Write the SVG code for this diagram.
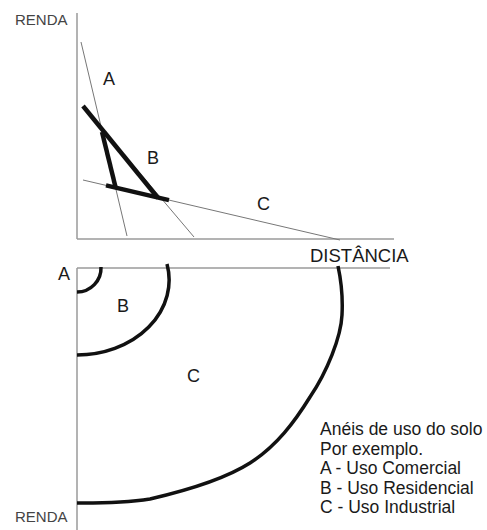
<svg xmlns="http://www.w3.org/2000/svg" width="487" height="530" viewBox="0 0 487 530">
<style>
.axis{stroke:#9a9a9a;stroke-width:1.5;fill:none}
.thin{stroke:#777;stroke-width:1;fill:none}
.thick{stroke:#111;stroke-width:4.5;fill:none;stroke-linecap:butt}
.ring{stroke:#111;stroke-width:3.5;fill:none;stroke-linecap:butt}
text{font-family:"Liberation Sans",Arial,sans-serif;fill:#1a1a1a}
.axl{font-size:15px;fill:#444}
.lbl{font-size:18px}
.leg{font-size:17.5px}
</style>
<rect width="487" height="530" fill="#fff"/>
<g id="top-chart">
<g id="axes-top">
<line class="axis" x1="77" y1="13" x2="77" y2="239"/>
<line class="axis" x1="77" y1="239" x2="394" y2="239"/>
<text class="axl" x="15" y="25">RENDA</text>
<text class="lbl" x="310" y="262" style="font-size:18.5px">DISTÂNCIA</text>
</g>
<g id="connectors">
<line class="thin" x1="81" y1="42" x2="127" y2="236"/>
<line class="thin" x1="83" y1="106" x2="194" y2="237"/>
<line class="thin" x1="83" y1="180" x2="340" y2="240"/>
<line class="thick" x1="83" y1="106" x2="158" y2="198"/>
<line class="thick" x1="102" y1="132" x2="115.5" y2="187"/>
<line class="thick" x1="106" y1="185.4" x2="169" y2="200.1"/>
</g>
<g id="label-A-top"><text class="lbl" x="103" y="85">A</text></g>
<g id="label-B-top"><text class="lbl" x="147" y="164">B</text></g>
<g id="label-C-top"><text class="lbl" x="257" y="210">C</text></g>
</g>
<g id="bottom-chart">
<g id="axes-bottom">
<line class="axis" x1="77" y1="268" x2="390" y2="268"/>
<line class="axis" x1="77" y1="268" x2="77" y2="530"/>
<text class="axl" x="15" y="522">RENDA</text>
</g>
<g id="ring-A">
<path class="ring" d="M77,292 A24,24 0 0 0 101,267"/>
<text class="lbl" x="58" y="280">A</text>
</g>
<g id="ring-B">
<path class="ring" d="M167,264 A92,75 0 0 1 77,355"/>
<text class="lbl" x="117" y="312">B</text>
</g>
<g id="ring-C">
<path class="ring" d="M338,266 C341,280 343,296 342,315 C341,337 327,372 310,397 C294.7,421.7 276.7,446 250,463 C223.3,480 178.8,492.3 150,499 C121,503.5 89,503 77,503"/>
<text class="lbl" x="187" y="382">C</text>
</g>
<g id="legend">
<text class="leg" x="320" y="435">Anéis de uso do solo</text>
<text class="leg" x="320" y="455">Por exemplo.</text>
<text class="leg" x="320" y="474">A - Uso Comercial</text>
<text class="leg" x="320" y="494">B - Uso Residencial</text>
<text class="leg" x="320" y="513">C - Uso Industrial</text>
</g>
</g>
</svg>
